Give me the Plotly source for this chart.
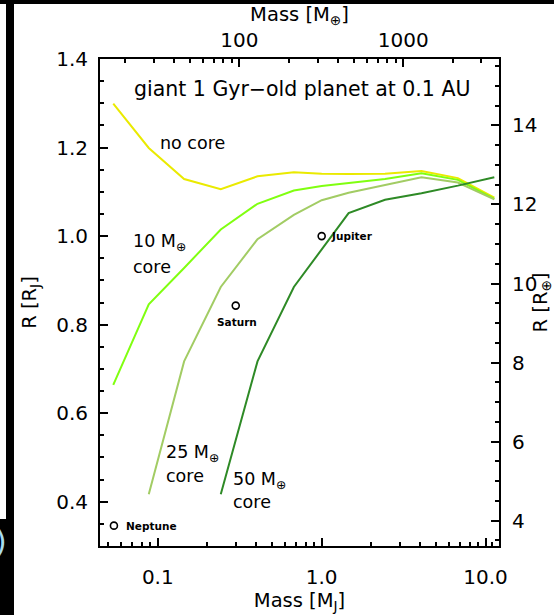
import numpy as np
import plotly.graph_objects as go

# ---------------- data ----------------
ME_PER_MJ = 317.8          # Earth masses per Jupiter mass
RE_PER_RJ = 11.2           # Earth radii per Jupiter radius

mass_grid_me = [17, 28, 46, 77, 129, 215, 318, 464, 774, 1292, 2154, 3594]
mass_mj = [m / ME_PER_MJ for m in mass_grid_me]

r_no_core = [1.299, 1.199, 1.129, 1.106, 1.135, 1.144, 1.141, 1.140, 1.141, 1.147, 1.131, 1.087]
r_core10 = [0.664, 0.846, 0.928, 1.015, 1.073, 1.103, 1.113, 1.120, 1.129, 1.142, 1.127, 1.084]
r_core25 = [None, 0.417, 0.717, 0.885, 0.993, 1.048, 1.081, 1.098, 1.116, 1.133, 1.121, 1.083]
r_core50 = [None, None, None, 0.417, 0.717, 0.885, 0.970, 1.052, 1.082, 1.097, 1.114, 1.133]

planet_names = ["Neptune", "Saturn", "Jupiter"]
planet_mass = [0.054, 0.299, 1.0]
planet_radius = [0.346, 0.843, 1.0]

x_ticks = [0.1, 1.0, 10.0]
x_ticktext = ["0.1", "1.0", "10.0"]
x_minor = [0.05, 0.06, 0.07, 0.08, 0.09, 0.2, 0.3, 0.4, 0.5, 0.6, 0.7, 0.8, 0.9,
           2, 3, 4, 5, 6, 7, 8, 9, 11]
top_ticks = [100, 1000]
top_minor = [20, 30, 40, 50, 60, 70, 80, 90, 200, 300, 400, 500, 600, 700, 800, 900, 2000, 3000]
y_ticks = [0.4, 0.6, 0.8, 1.0, 1.2, 1.4]
y2_ticks = [4, 6, 8, 10, 12, 14]

x_range_mj = [0.0444, 12.08]
y_range_rj = [0.3, 1.4]

colors = {"none": "#eaea00", "c10": "#80ff10", "c25": "#a2cc64", "c50": "#2e8a26"}

FONT = "DejaVu Sans"

fig = go.Figure()
for r, c in [(r_no_core, colors["none"]), (r_core10, colors["c10"]),
             (r_core25, colors["c25"]), (r_core50, colors["c50"])]:
    fig.add_trace(go.Scatter(x=mass_mj, y=r, mode="lines",
                             line=dict(color=c, width=2), showlegend=False,
                             hoverinfo="skip"))

fig.add_trace(go.Scatter(x=planet_mass, y=planet_radius, mode="markers",
                         marker=dict(symbol="circle-open", size=7, color="black",
                                     line=dict(width=1.6, color="black")),
                         showlegend=False))

# invisible traces to activate the secondary axes
fig.add_trace(go.Scatter(x=[m * ME_PER_MJ for m in x_range_mj], y=y_range_rj,
                         xaxis="x2", yaxis="y", mode="markers",
                         marker=dict(opacity=0), showlegend=False, hoverinfo="skip"))
fig.add_trace(go.Scatter(x=x_range_mj, y=[v * RE_PER_RJ for v in y_range_rj],
                         xaxis="x", yaxis="y2", mode="markers",
                         marker=dict(opacity=0), showlegend=False, hoverinfo="skip"))

axis_common = dict(showline=True, linecolor="black", linewidth=2, ticks="inside",
                   ticklen=8, tickwidth=1.5, tickcolor="black", showgrid=False,
                   zeroline=False, automargin=False,
                   tickfont=dict(family=FONT, size=20, color="black"))
minor_common = dict(ticks="inside", ticklen=4, tickwidth=1.5, tickcolor="black", showgrid=False)
title_font = dict(family=FONT, size=19.5, color="black")

fig.update_layout(
    width=554, height=615,
    margin=dict(l=100, r=55, t=59, b=69),
    paper_bgcolor="white", plot_bgcolor="white",
    xaxis=dict(type="log", range=[np.log10(x_range_mj[0]), np.log10(x_range_mj[1])],
               tickmode="array", tickvals=x_ticks, ticktext=x_ticktext,
               minor=dict(tickmode="array", tickvals=x_minor, **minor_common),
               ticklabelstandoff=12,
               title=dict(text="Mass [M<sub>J</sub>]", standoff=2, font=title_font),
               **axis_common),
    xaxis2=dict(type="log", overlaying="x", side="top",
                range=[np.log10(x_range_mj[0] * ME_PER_MJ), np.log10(x_range_mj[1] * ME_PER_MJ)],
                tickmode="array", tickvals=top_ticks, ticktext=[str(t) for t in top_ticks],
                minor=dict(tickmode="array", tickvals=top_minor, **minor_common),
                ticklabelstandoff=2,
                title=dict(text="Mass [M<sub>⊕</sub>]", standoff=0, font=title_font),
                **axis_common),
    yaxis=dict(range=y_range_rj, tickmode="array", tickvals=y_ticks,
               ticktext=[f"{v:.1f}" for v in y_ticks],
               minor=dict(dtick=0.05, tick0=0.4, **minor_common),
               ticklabelstandoff=6,
               title=dict(text="R [R<sub>J</sub>]", standoff=14, font=title_font),
               **axis_common),
    yaxis2=dict(overlaying="y", side="right",
                range=[v * RE_PER_RJ for v in y_range_rj],
                tickmode="array", tickvals=y2_ticks, ticktext=[str(v) for v in y2_ticks],
                minor=dict(dtick=0.5, tick0=4, **minor_common),
                ticklabelstandoff=7,
                title=dict(text="R [R<sub>⊕</sub>]", standoff=19, font=title_font),
                **axis_common),
)

ann_font = dict(family=FONT, size=17.5, color="black")
lab_font = dict(family=FONT, size=10.5, color="black", weight="bold")

def ann(text, x_mj, y, font, xanchor="left", yanchor="middle"):
    fig.add_annotation(text=text, x=np.log10(x_mj), y=y, xref="x", yref="y",
                       showarrow=False, font=font, xanchor=xanchor, yanchor=yanchor)

ann("giant 1 Gyr\u2212old planet at 0.1 AU", 0.755, 1.332,
    dict(family=FONT, size=20.5, color="black"), xanchor="center")
ann("no core", 0.1, 1.21, ann_font)
ann("10 M<sub>⊕</sub>", 0.0688, 0.985, ann_font)
ann("core", 0.0688, 0.930, ann_font)
ann("25 M<sub>⊕</sub>", 0.109, 0.510, ann_font)
ann("core", 0.109, 0.457, ann_font)
ann("50 M<sub>⊕</sub>", 0.278, 0.449, ann_font)
ann("core", 0.278, 0.399, ann_font)

ann(planet_names[0], planet_mass[0] * 1.15, planet_radius[0], lab_font)
ann(planet_names[1], planet_mass[1] * 1.02, planet_radius[1] - 0.037, lab_font, xanchor="center")
ann(planet_names[2], planet_mass[2] * 1.11, planet_radius[2], lab_font)

# dark frame pieces at the image edges (screenshot border)
W, H, L, T, B, R = 554, 615, 100, 59, 69, 55
pw, ph = W - L - R, H - T - B
def px(x): return (x - L) / pw
def py(y): return (H - B - y) / ph
fig.add_shape(type="rect", xref="paper", yref="paper", x0=px(-2), x1=px(W + 2), y0=py(4), y1=py(-2),
              fillcolor="black", line_width=0, layer="above")
fig.add_shape(type="rect", xref="paper", yref="paper", x0=px(6), x1=px(14), y0=py(H + 2), y1=py(-2),
              fillcolor="black", line_width=0, layer="above")
fig.add_shape(type="rect", xref="paper", yref="paper", x0=px(-2), x1=px(14), y0=py(H + 2), y1=py(519),
              fillcolor="black", line_width=0, layer="above")
fig.add_annotation(text=")", xref="paper", yref="paper", x=px(9), y=py(541), showarrow=False,
                   xanchor="right", yanchor="middle",
                   font=dict(family=FONT, size=30, color="#a8dcef"))

fig.write_html("out.html")
